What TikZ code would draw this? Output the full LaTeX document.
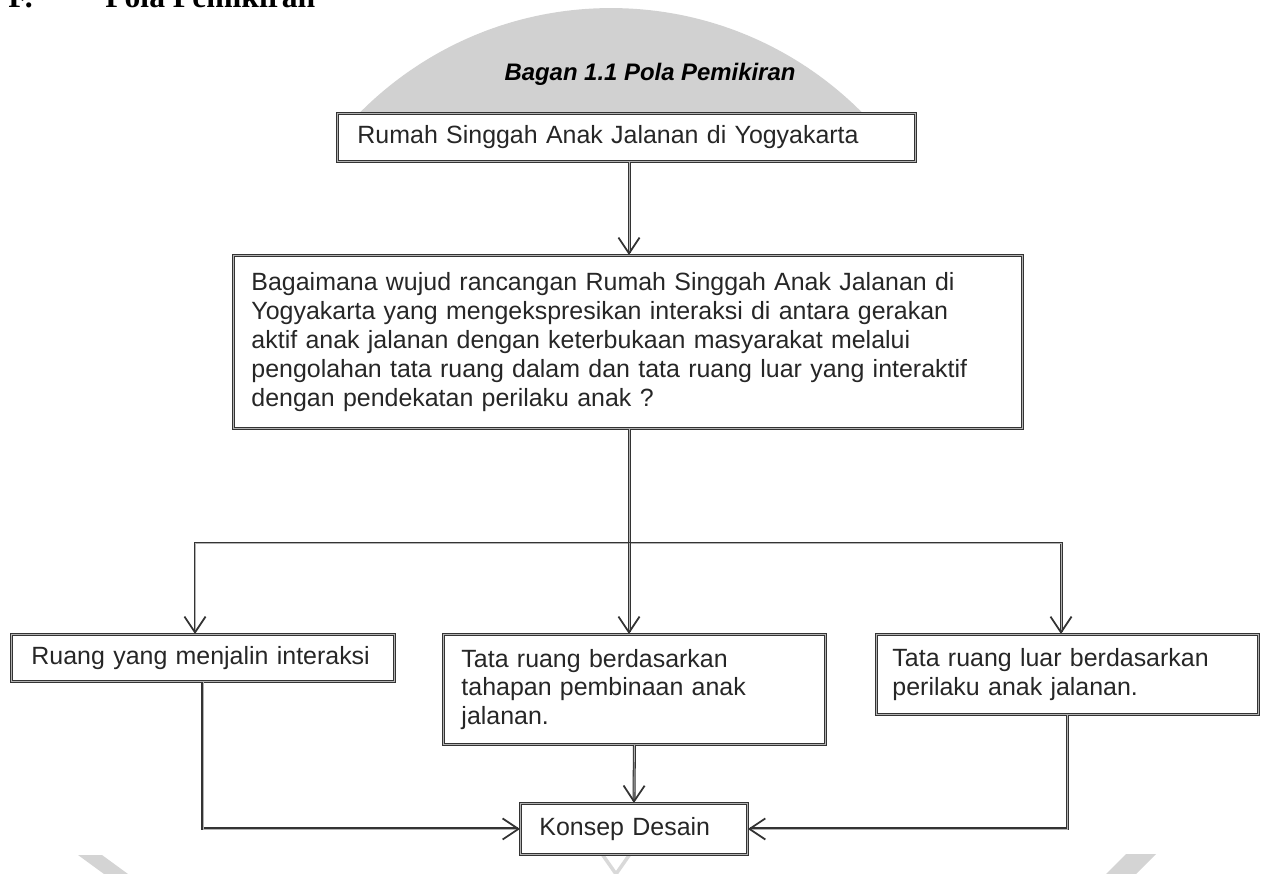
\documentclass[tikz,border=0pt]{standalone}
\usepackage{fontspec}
\setmainfont{Liberation Sans}
\newfontfamily\serifjudul{Liberation Serif}
\usetikzlibrary{arrows.meta, positioning, calc}

\newcommand{\isiteks}{\fontsize{14.2}{16.4}\selectfont}

\tikzset{
  kotak/.style={draw=black!80, double=black!30, double distance=0.5pt, line width=0.55pt,
    anchor=north west, align=left, inner ysep=0pt, text=black!85, font=\isiteks},
  alur/.style={draw=black!80, double=black!30, double distance=0.5pt, line width=0.6pt},
  panah/.style={alur, -{Straight Barb[length=9pt, width=12pt, line width=1pt]}},
  tanda/.style={fill=black!17, draw=none}
}

\begin{document}
\begin{tikzpicture}[x=0.02cm, y=-0.02cm]
    \useasboundingbox (0,0) rectangle (1261,874);

    % --- watermark sisa logo (abu-abu) ---
    \begin{scope}
      \clip (0,0) rectangle (1261,113);
      \fill[black!18] (611,362) circle [radius=7.08cm];
    \end{scope}
    \fill[tanda] (78,855) -- (102,855) -- (128,874) -- (104,874) -- cycle;
    \fill[tanda] (1126,854) -- (1156,854) -- (1136,874) -- (1106,874) -- cycle;
    \draw[black!15, line width=2pt] (602,854) -- (616,874) -- (630,854);

    % --- judul ---
    \node[anchor=base west, inner sep=0pt, font=\serifjudul\fontsize{18}{21}\selectfont\bfseries] (subbab) at (8,8) {F.};
    \node[anchor=base west, inner sep=0pt, font=\serifjudul\fontsize{18}{21}\selectfont\bfseries] (namabab) at (105,8) {Pola Pemikiran};
    \node[font=\fontsize{13.6}{16}\selectfont\bfseries\itshape] (judul) at (650,74) {Bagan 1.1 Pola Pemikiran};

    % --- kotak-kotak ---
    \node[kotak, text width=10.76cm, inner xsep=0.4cm, minimum height=0.96cm] (rumah) at (337,113)
      {Rumah Singgah Anak Jalanan di Yogyakarta};
    \node[kotak, text width=15.06cm, inner xsep=0.36cm, minimum height=3.46cm] (tanya) at (233,255)
      {Bagaimana wujud rancangan Rumah Singgah Anak Jalanan di\\
       Yogyakarta yang mengekspresikan interaksi di antara gerakan\\
       aktif anak jalanan dengan keterbukaan masyarakat melalui\\
       pengolahan tata ruang dalam dan tata ruang luar yang interaktif\\
       dengan pendekatan perilaku anak ?};
    \node[kotak, text width=6.86cm, inner xsep=0.4cm, minimum height=0.94cm] (ruang) at (11,634)
      {Ruang yang menjalin interaksi};
    \node[kotak, text width=6.92cm, inner xsep=0.36cm, minimum height=2.2cm] (tahap) at (443,634)
      {Tata ruang berdasarkan\\ tahapan pembinaan anak\\ jalanan.};
    \node[kotak, text width=7.0cm, inner xsep=0.32cm, minimum height=1.6cm] (luar) at (876,634)
      {Tata ruang luar berdasarkan\\ perilaku anak jalanan.};
    \node[kotak, text width=3.78cm, inner xsep=0.38cm, minimum height=1.02cm] (konsep) at (520,803)
      {Konsep Desain};

    % --- alur ---
    \coordinate (cabang) at (629,543);
    \coordinate (kiri) at (195,543);
    \coordinate (kanan) at (1061,543);
    \draw[panah] (rumah.south -| cabang) -- (tanya.north -| cabang);
    \draw[alur] (tanya.south -| cabang) -- (cabang);
    \draw[panah] (cabang) -- (kiri) -- (kiri |- ruang.north);
    \draw[panah] (cabang) -- (kanan) -- (kanan |- luar.north);
    \draw[panah] (cabang) -- (cabang |- tahap.north);

    \draw[panah] (ruang.south) |- (konsep.west);
    \draw[panah] (tahap.south) -- (konsep.north);
    \draw[panah] (luar.south) |- (konsep.east);
\end{tikzpicture}
\end{document}
